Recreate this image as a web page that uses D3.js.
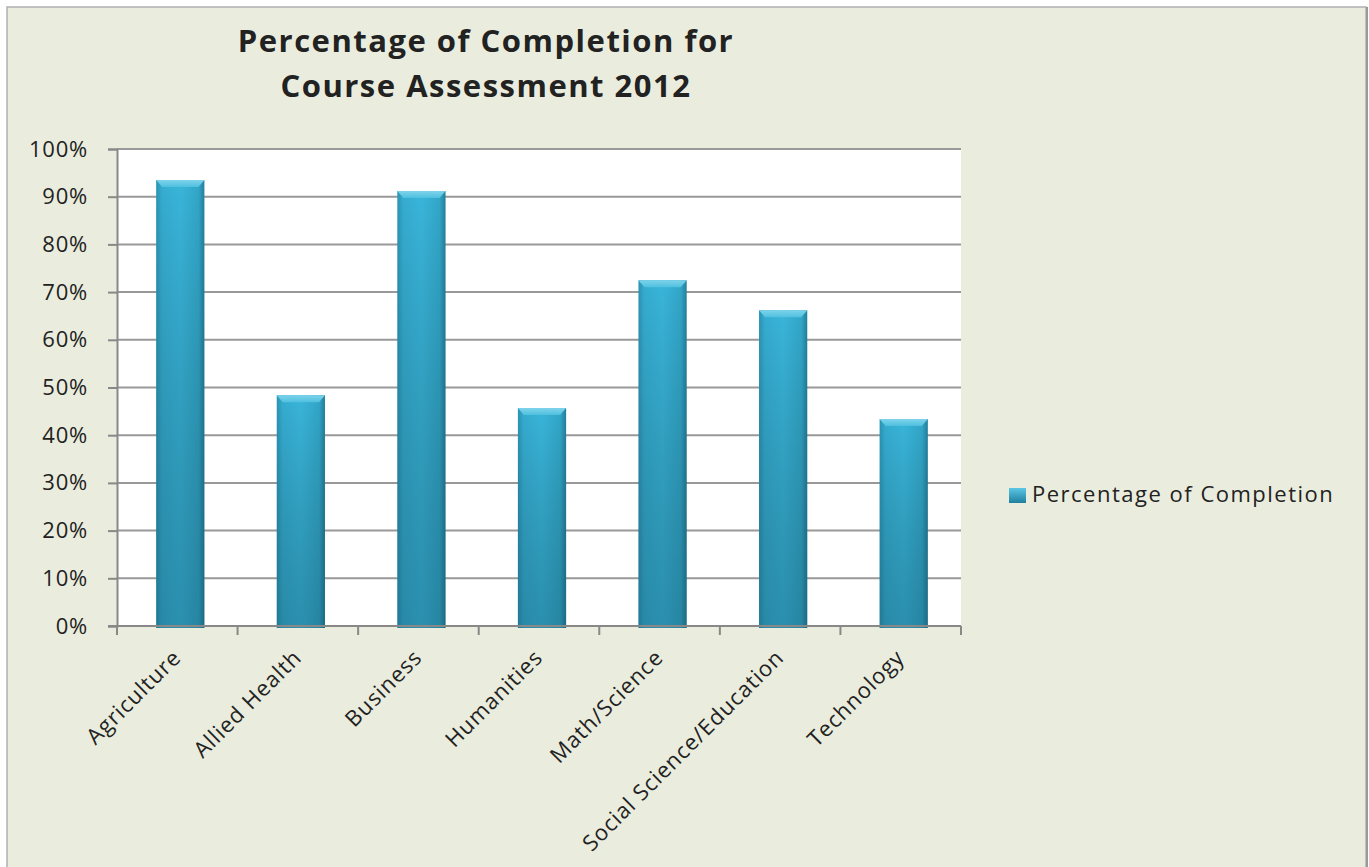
<!DOCTYPE html>
<html>
<head>
<meta charset="utf-8">
<script src="https://cdn.jsdelivr.net/npm/d3@7"></script>
<style>
  body { margin: 0; background: #fff; }
  text { font-family: "Open Sans", "DejaVu Sans", sans-serif; fill: #222; }
</style>
</head>
<body>
<script>
const categories = ["Agriculture", "Allied Health", "Business", "Humanities", "Math/Science", "Social Science/Education", "Technology"];
const values = [0.935, 0.484, 0.912, 0.457, 0.725, 0.662, 0.434];
const yTicks = [0, 0.1, 0.2, 0.3, 0.4, 0.5, 0.6, 0.7, 0.8, 0.9, 1.0];
const seriesName = "Percentage of Completion";

let width = 1369, height = 867;
let svg = d3.select('body')
  .append('svg')
  .attr('width', width)
  .attr('height', height);

// chart background + frame
svg.append("rect")
  .attr("x", 7).attr("y", 7)
  .attr("width", 1359).attr("height", 870)
  .style("fill", "#eaeddd")
  .style("stroke", "#b0b0b0")
  .style("stroke-width", 1.5);
svg.append("line")
  .attr("x1", 1367).attr("x2", 1367).attr("y1", 7).attr("y2", 867)
  .style("stroke", "#999").style("stroke-width", 2);

let plot = { left: 117, right: 961, top: 149, bottom: 626 };

let x = d3.scaleBand()
  .domain(categories)
  .range([plot.left, plot.right])
  .paddingInner(0.6)
  .paddingOuter(0.3);

let y = d3.scaleLinear()
  .domain([0, 1])
  .range([plot.bottom, plot.top]);

// gradients
let defs = svg.append("defs");
let hGrad = defs.append("linearGradient")
  .attr("id", "barH")
  .attr("x1", "0%").attr("y1", "0%").attr("x2", "100%").attr("y2", "0%");
hGrad.append("stop").attr("offset", "0%").style("stop-color", "#2a93b3");
hGrad.append("stop").attr("offset", "12%").style("stop-color", "#35acd0");
hGrad.append("stop").attr("offset", "50%").style("stop-color", "#39b5da");
hGrad.append("stop").attr("offset", "88%").style("stop-color", "#32a6c8");
hGrad.append("stop").attr("offset", "100%").style("stop-color", "#237f9c");

let vGrad = defs.append("linearGradient")
  .attr("id", "barV")
  .attr("x1", "0%").attr("y1", "0%").attr("x2", "0%").attr("y2", "100%");
vGrad.append("stop").attr("offset", "0%").style("stop-color", "#000").style("stop-opacity", 0);
vGrad.append("stop").attr("offset", "100%").style("stop-color", "#0a3a4a").style("stop-opacity", 0.3);

let capGrad = defs.append("linearGradient")
  .attr("id", "cap")
  .attr("x1", "0%").attr("y1", "0%").attr("x2", "0%").attr("y2", "100%");
capGrad.append("stop").attr("offset", "0%").style("stop-color", "#7fd3ea");
capGrad.append("stop").attr("offset", "100%").style("stop-color", "#4fc0e0");

let legGrad = defs.append("linearGradient")
  .attr("id", "leg")
  .attr("x1", "0%").attr("y1", "0%").attr("x2", "0%").attr("y2", "100%");
legGrad.append("stop").attr("offset", "0%").style("stop-color", "#5cc6e6");
legGrad.append("stop").attr("offset", "100%").style("stop-color", "#1f7f9e");

// plot area
svg.append("rect")
  .attr("x", plot.left).attr("y", plot.top)
  .attr("width", plot.right - plot.left).attr("height", plot.bottom - plot.top)
  .style("fill", "#fff");

// gridlines
svg.append("g")
  .selectAll("line")
  .data(yTicks.slice(1))
  .enter().append("line")
  .attr("x1", plot.left).attr("x2", plot.right)
  .attr("y1", d => y(d)).attr("y2", d => y(d))
  .style("stroke", "#999").style("stroke-width", 2);

// bars (drawn a touch right of centre, like the 3D-ish original)
let bars = svg.append("g")
  .attr("transform", "translate(3,0)")
  .selectAll("g")
  .data(values)
  .enter().append("g");

bars.append("rect")
  .attr("x", (d, i) => x(categories[i]))
  .attr("y", d => y(d))
  .attr("width", x.bandwidth())
  .attr("height", d => y(0) - y(d) + 2)
  .style("fill", "url(#barH)");
bars.append("rect")
  .attr("x", (d, i) => x(categories[i]))
  .attr("y", d => y(d))
  .attr("width", x.bandwidth())
  .attr("height", d => y(0) - y(d) + 2)
  .style("fill", "url(#barV)");
bars.append("path")
  .attr("d", (d, i) => {
    let x0 = x(categories[i]), w = x.bandwidth(), t = y(d);
    return "M" + x0 + "," + t + "L" + (x0 + w) + "," + t +
      "L" + (x0 + w - 6) + "," + (t + 7) + "L" + (x0 + 6) + "," + (t + 7) + "Z";
  })
  .style("fill", "url(#cap)");

// y axis
let yAxis = svg.append("g")
  .attr("transform", "translate(" + plot.left + ",0)")
  .call(d3.axisLeft(y).tickValues(yTicks).tickFormat(d3.format(".0%")).tickSize(9).tickPadding(20));
yAxis.select(".domain").style("stroke", "#888").style("stroke-width", 2);
yAxis.selectAll(".tick line").style("stroke", "#888").style("stroke-width", 2);
yAxis.selectAll("text")
  .style("font-size", "22px").style("fill", "#222")
  .style("letter-spacing", "0.8px")
  .attr("font-family", null);

// x axis
let xAxis = svg.append("g")
  .attr("transform", "translate(0," + plot.bottom + ")");
xAxis.append("line")
  .attr("x1", plot.left - 9).attr("x2", plot.right)
  .style("stroke", "#888").style("stroke-width", 2);
let step = (plot.right - plot.left) / categories.length;
xAxis.selectAll(".xt")
  .data(d3.range(categories.length + 1))
  .enter().append("line")
  .attr("class", "xt")
  .attr("x1", d => plot.left + d * step).attr("x2", d => plot.left + d * step)
  .attr("y1", 0).attr("y2", 9)
  .style("stroke", "#888").style("stroke-width", 2);
xAxis.selectAll(".xl")
  .data(categories)
  .enter().append("text")
  .attr("class", "xl")
  .attr("text-anchor", "end")
  .style("font-size", "22px")
  .style("letter-spacing", "0.9px")
  .attr("transform", d => "translate(" + (x(d) + x.bandwidth() / 2 + 5) + ",33) rotate(-45)")
  .text(d => d);

// title
let title = svg.append("text")
  .attr("x", 486)
  .attr("text-anchor", "middle")
  .style("font-size", "31px")
  .style("font-weight", "bold")
  .style("letter-spacing", "1.5px");
title.append("tspan").attr("x", 486).attr("y", 52).text("Percentage of Completion for");
title.append("tspan").attr("x", 486).attr("y", 97).text("Course Assessment 2012");

// legend
svg.append("rect")
  .attr("x", 1009).attr("y", 488)
  .attr("width", 17).attr("height", 15)
  .style("fill", "url(#leg)");
svg.append("text")
  .attr("x", 1032).attr("y", 502)
  .style("font-size", "22px")
  .style("letter-spacing", "1.5px")
  .text(seriesName);
</script>
</body>
</html>
